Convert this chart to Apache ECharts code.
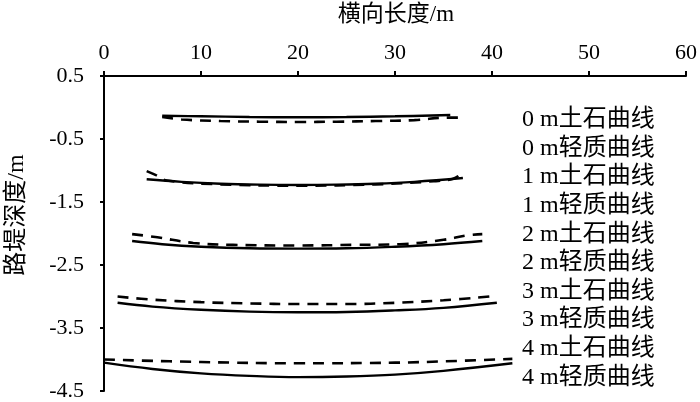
<!DOCTYPE html>
<html>
<head>
<meta charset="utf-8">
<script src="https://cdn.jsdelivr.net/npm/echarts@6/dist/echarts.min.js"></script>
<style>
  html, body { margin: 0; padding: 0; background: #fff; }
  #chart { width: 700px; height: 402px; }
</style>
</head>
<body>
<div id="chart"></div>
<script>
// 横向长度 (m) 与 路堤深度 (m)
var yTicks = [-4.5, -3.5, -2.5, -1.5, -0.5, 0.5]

var x0Solid = [6, 10, 15, 20, 25, 30, 35.7]
var y0Solid = [-0.13, -0.14, -0.15, -0.155, -0.15, -0.14, -0.12]
var x0Dash = [6, 8, 12, 16, 20, 24, 28, 32, 35.5, 36.6]
var y0Dash = [-0.15, -0.19, -0.215, -0.225, -0.23, -0.225, -0.215, -0.2, -0.16, -0.16]

var x1Solid = [4.4, 8, 12, 16, 20, 24, 28, 32, 37]
var y1Solid = [-1.14, -1.18, -1.21, -1.225, -1.23, -1.225, -1.21, -1.18, -1.12]
var x1Dash = [4.4, 5.3, 6.5, 12, 20, 28, 34, 36, 37]
var y1Dash = [-1.01, -1.07, -1.16, -1.22, -1.24, -1.22, -1.17, -1.13, -1.03]

var x2Solid = [2.9, 6, 10, 15, 20, 25, 30, 35, 39]
var y2Solid = [-2.12, -2.17, -2.21, -2.235, -2.24, -2.235, -2.21, -2.17, -2.12]
var x2Dash = [2.9, 5.5, 9.2, 13.3, 20, 26, 30.5, 35, 37.4, 39]
var y2Dash = [-2.01, -2.06, -2.15, -2.18, -2.19, -2.18, -2.17, -2.1, -2.03, -2.01]

var x3Solid = [1.4, 5, 10, 15, 20, 25, 30, 35, 40.5]
var y3Solid = [-3.1, -3.16, -3.21, -3.24, -3.25, -3.245, -3.22, -3.18, -3.1]
var x3Dash = [1.4, 5, 10, 15, 20, 25, 30, 35, 40.5]
var y3Dash = [-3.0, -3.05, -3.09, -3.11, -3.12, -3.12, -3.1, -3.06, -2.99]

var x4Solid = [0, 5, 10, 15, 20, 25, 30, 35, 42.1]
var y4Solid = [-4.05, -4.15, -4.22, -4.26, -4.28, -4.27, -4.24, -4.18, -4.06]
var x4Dash = [0, 10, 20, 30, 35, 42.1]
var y4Dash = [-4.0, -4.04, -4.06, -4.05, -4.03, -3.99]

var names = ['0 m土石曲线', '0 m轻质曲线', '1 m土石曲线', '1 m轻质曲线', '2 m土石曲线',
  '2 m轻质曲线', '3 m土石曲线', '3 m轻质曲线', '4 m土石曲线', '4 m轻质曲线']

var curves = [
  [x0Solid, y0Solid], [x0Dash, y0Dash],
  [x1Solid, y1Solid], [x1Dash, y1Dash],
  [x2Solid, y2Solid], [x2Dash, y2Dash],
  [x3Solid, y3Solid], [x3Dash, y3Dash],
  [x4Solid, y4Solid], [x4Dash, y4Dash]
]

var serifFont = '"Liberation Serif", "Noto Sans CJK SC", serif'

function pairs (xs, ys) {
  return xs.map(function (x, i) { return [x, ys[i]] })
}

var series = curves.map(function (c, i) {
  var dashed = i % 2 === 1
  return {
    name: names[i],
    type: 'line',
    data: pairs(c[0], c[1]),
    smooth: 0.4,
    symbol: 'none',
    lineStyle: {
      color: '#000',
      width: dashed ? 2.6 : 2.4,
      type: dashed ? [11, 8] : 'solid'
    }
  }
})

var chart = echarts.init(document.getElementById('chart'))
chart.setOption({
  backgroundColor: '#fff',
  animation: false,
  grid: { left: 104, right: 14, top: 76, bottom: 5 },
  legend: {
    data: names,
    orient: 'vertical',
    left: 511,
    top: 103,
    icon: 'none',
    itemWidth: 1,
    itemHeight: 24,
    itemGap: 4.6,
    textStyle: { fontFamily: serifFont, fontSize: 24, color: '#000' }
  },
  xAxis: {
    type: 'value',
    position: 'top',
    z: 10,
    min: 0,
    max: 60,
    interval: 10,
    axisLine: { show: true, onZero: false, lineStyle: { color: '#000', width: 2 } },
    axisTick: { show: true, length: 5, lineStyle: { color: '#000', width: 2 } },
    axisLabel: { margin: 12, fontFamily: serifFont, fontSize: 22, color: '#000' },
    splitLine: { show: false }
  },
  yAxis: {
    type: 'value',
    min: -4.5,
    max: 0.5,
    axisLine: { show: true, onZero: false, lineStyle: { color: '#000', width: 2 } },
    axisTick: { show: true, length: 4, customValues: yTicks, lineStyle: { color: '#000', width: 2 } },
    axisLabel: { margin: 20, customValues: yTicks, fontFamily: serifFont, fontSize: 22, color: '#000' },
    splitLine: { show: false }
  },
  graphic: [{
    type: 'text',
    x: 396,
    y: 15,
    style: {
      text: '横向长度/m',
      fontFamily: serifFont,
      fontSize: 23,
      fill: '#000',
      align: 'center',
      verticalAlign: 'middle'
    }
  }, {
    type: 'text',
    x: 17,
    y: 215,
    rotation: Math.PI / 2,
    style: {
      text: '路堤深度/m',
      fontFamily: serifFont,
      fontSize: 24,
      fill: '#000',
      align: 'center',
      verticalAlign: 'middle'
    }
  }],
  series: series
})
</script>
</body>
</html>
